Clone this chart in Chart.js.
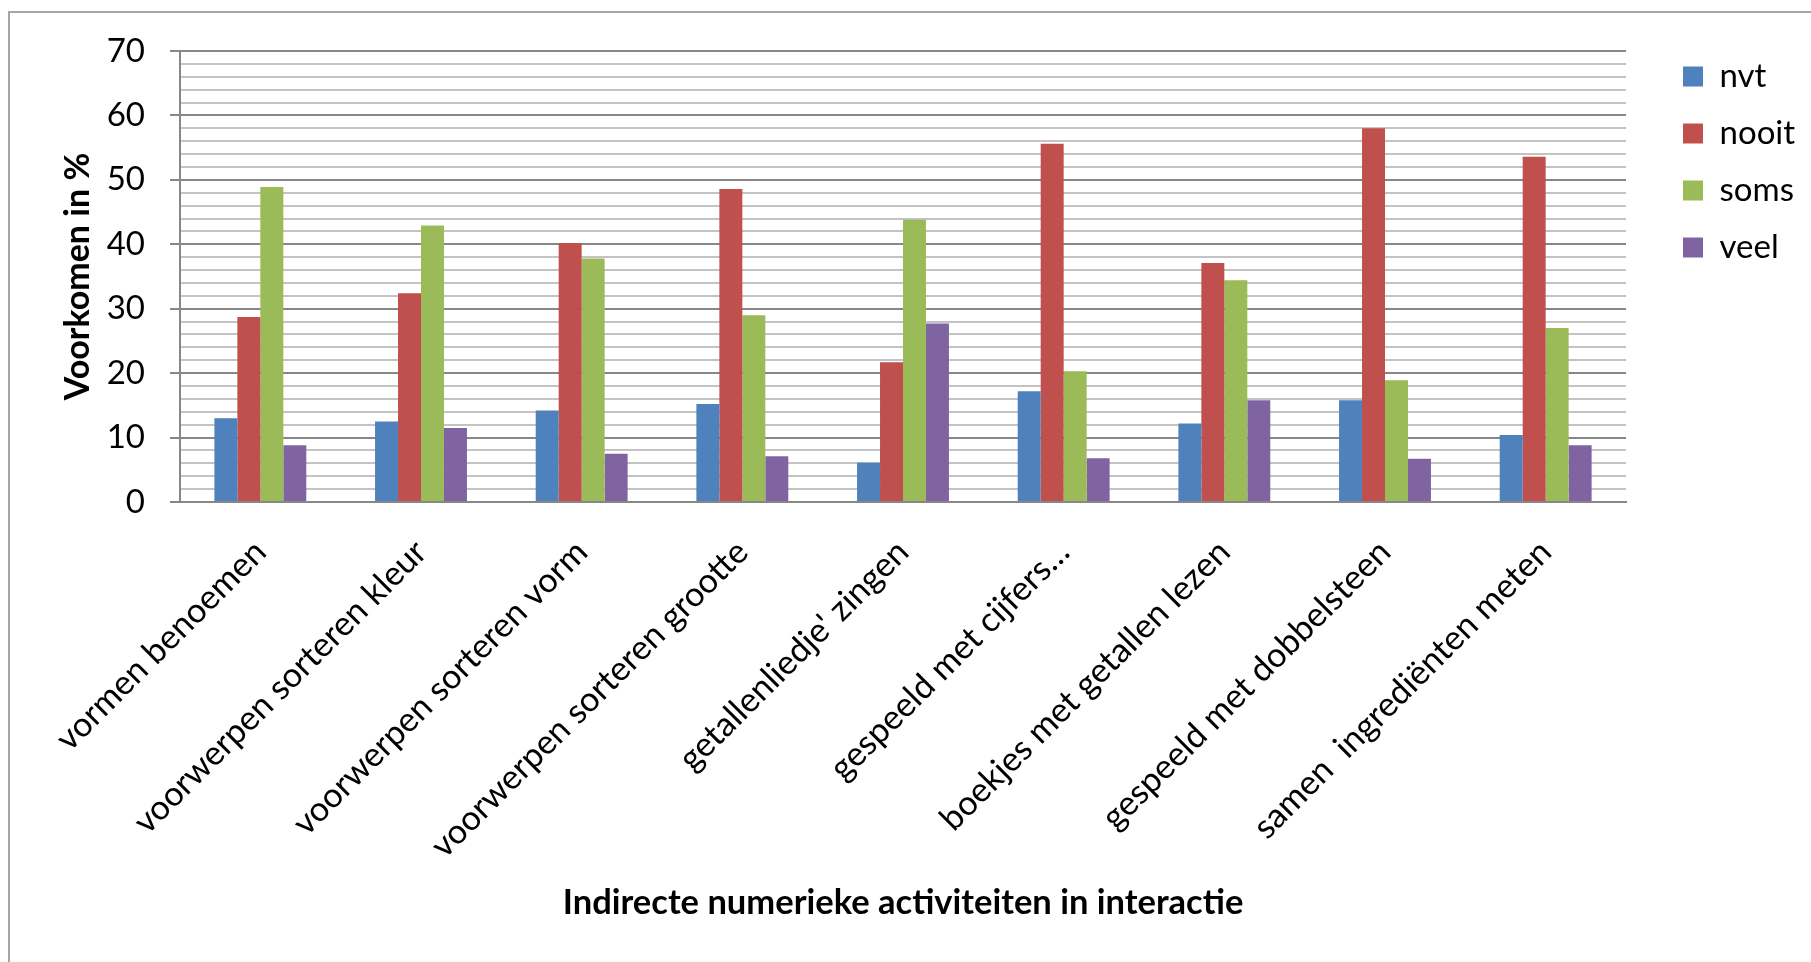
<!DOCTYPE html>
<html>
<head>
<meta charset="utf-8">
<script src="https://cdn.jsdelivr.net/npm/chart.js"></script>
<style>
  html, body { margin: 0; padding: 0; background: #fff; }
  #wrap { position: relative; width: 1811px; height: 962px; overflow: hidden; }
  #frame { position: absolute; left: 8px; top: 11px; width: 1900px; height: 1000px;
           border-left: 2px solid #a6a6a6; border-top: 2px solid #a6a6a6; }
  canvas { position: absolute; left: 0; top: 0; }
</style>
</head>
<body>
<div id="wrap">
  <div id="frame"></div>
  <canvas id="chart" width="1811" height="962"></canvas>
</div>
<script>
// activiteiten (x-as)
const categories = [
    'vormen benoemen',
    'voorwerpen sorteren kleur',
    'voorwerpen sorteren vorm',
    'voorwerpen sorteren grootte',
    "getallenliedje' zingen",
    'gespeeld met cijfers…',
    'boekjes met getallen lezen',
    'gespeeld met dobbelsteen',
    'samen  ingrediënten meten'
];

// percentages per antwoord
const nvt   = [13.0, 12.5, 14.2, 15.2,  6.1, 17.2, 12.2, 15.8, 10.4];
const nooit = [28.7, 32.4, 40.2, 48.6, 21.7, 55.6, 37.1, 58.0, 53.6];
const soms  = [48.9, 42.9, 37.8, 29.0, 43.8, 20.3, 34.4, 18.9, 27.0];
const veel  = [ 8.8, 11.5,  7.5,  7.1, 27.7,  6.8, 15.8,  6.7,  8.8];

// y-as: 0..70, hulplijnen om de 2, labels om de 10
const yMax = 70;
const yGridStep = 2;
const yLabelStep = 10;

const majorColor = '#878787';
const minorColor = '#c3c3c3';
const isMajor = v => v % yLabelStep === 0;

Chart.defaults.font.family = 'Lato, "Open Sans", sans-serif';
Chart.defaults.color = '#000';

// legenda rechts naast het plot zetten zoals in Excel
const legendPlacer = {
    id: 'legendPlacer',
    afterInit(chart) {
        const lg = chart.legend;
        const fit = lg.fit.bind(lg);
        lg.fit = function () { fit(); this.width = 185; };
    },
    afterLayout(chart) {
        const lg = chart.legend;
        lg.left += 33; lg.right += 33;
        lg.top -= 15; lg.bottom -= 15;
    }
};

const ctx = document.getElementById('chart').getContext('2d');
new Chart(ctx, {
    type: 'bar',
    data: {
        labels: categories,
        datasets: [
            { label: 'nvt',   data: nvt,   backgroundColor: '#4F81BD' },
            { label: 'nooit', data: nooit, backgroundColor: '#C0504D' },
            { label: 'soms',  data: soms,  backgroundColor: '#9BBB59' },
            { label: 'veel',  data: veel,  backgroundColor: '#8064A2' }
        ]
    },
    options: {
        responsive: false,
        animation: false,
        layout: { padding: { top: 51, left: 0, right: 0, bottom: 0 } },
        datasets: { bar: { categoryPercentage: 0.572, barPercentage: 1.0 } },
        plugins: {
            legend: {
                position: 'right',
                align: 'start',
                labels: { boxWidth: 20, boxHeight: 20, padding: 24, font: { size: 33 } }
            },
            tooltip: { enabled: false }
        },
        scales: {
            x: {
                grid: { display: false, drawTicks: false },
                border: { color: majorColor, width: 2 },
                ticks: {
                    autoSkip: false, minRotation: 45, maxRotation: 45,
                    padding: 30, font: { size: 34 }
                },
                title: {
                    display: true,
                    text: 'Indirecte numerieke activiteiten in interactie',
                    font: { size: 34.5, weight: 'bold' },
                    padding: { top: 0, bottom: 38 }
                },
                afterFit(scale) { scale.height = 962 - 502; }
            },
            y: {
                min: 0,
                max: yMax,
                grid: {
                    lineWidth: 2,
                    tickLength: 10,
                    color: c => isMajor(c.tick.value) ? majorColor : minorColor,
                    tickColor: c => isMajor(c.tick.value) ? majorColor : 'rgba(0,0,0,0)'
                },
                border: { color: majorColor, width: 2 },
                ticks: {
                    stepSize: yGridStep,
                    autoSkip: false,
                    maxTicksLimit: 100,
                    padding: 25,
                    font: { size: 33 },
                    callback: v => isMajor(v) ? v : ''
                },
                title: {
                    display: true,
                    text: 'Voorkomen in %',
                    font: { size: 34, weight: 'bold' },
                    padding: { top: 58, bottom: 0 }
                },
                afterFit(scale) { scale.width = 180; }
            }
        }
    },
    plugins: [legendPlacer]
});
</script>
</body>
</html>
